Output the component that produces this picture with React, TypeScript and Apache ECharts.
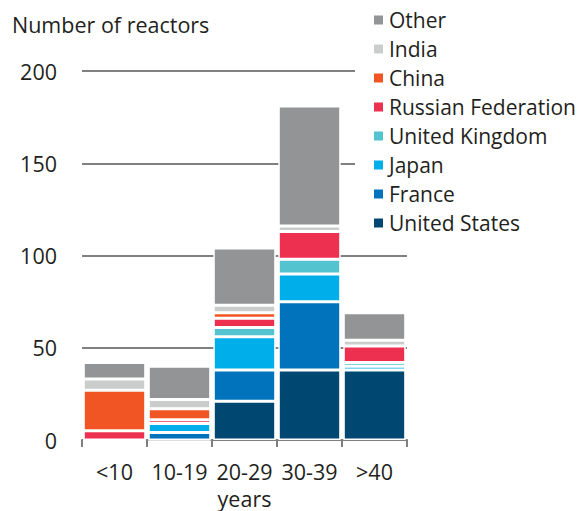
import React, { useEffect, useRef } from "react";
import * as echarts from "echarts";

const categories = ["<10", "10-19", "20-29", "30-39", ">40"];
const unitedStates = [0, 0, 21, 38, 38];
const france = [0, 4, 17, 37, 0];
const japan = [0, 5, 18, 15, 2];
const unitedKingdom = [0, 0, 5, 8, 2];
const russia = [5, 2, 5, 15, 9];
const china = [22, 6, 3, 0, 0];
const india = [6, 5, 4, 3, 3];
const other = [9, 18, 31, 65, 15];
const yTicks = [0, 50, 100, 150, 200];

const seriesDefs = [
  { name: "United States", data: unitedStates, color: "#004872" },
  { name: "France", data: france, color: "#0073bc" },
  { name: "Japan", data: japan, color: "#00aeea" },
  { name: "United Kingdom", data: unitedKingdom, color: "#52c3cf" },
  { name: "Russian Federation", data: russia, color: "#ee3050" },
  { name: "China", data: china, color: "#f15523" },
  { name: "India", data: india, color: "#cbcccc" },
  { name: "Other", data: other, color: "#939496" },
];

const FONT = "'Open Sans', sans-serif";
const FS = 21.5;
const TEXT = "#231f20";

export default function App() {
  const ref = useRef<HTMLDivElement>(null);
  useEffect(() => {
    const chart = echarts.init(ref.current!, null, { renderer: "svg" });
    chart.setOption({
      animation: false,
      textStyle: { fontFamily: FONT },
      title: {
        text: "Number of reactors",
        left: 7,
        top: 8,
        textStyle: { fontFamily: FONT, fontSize: FS, fontWeight: "normal", color: TEXT, lineHeight: 22 },
      },
      legend: {
        orient: "vertical",
        left: 355,
        top: 8,
        padding: [1, 0, 8, 17],
        backgroundColor: "#ffffff",
        itemWidth: 11,
        itemHeight: 11,
        itemGap: 7,
        icon: "rect",
        data: ["Other", "India", "China", "Russian Federation", "United Kingdom", "Japan", "France", "United States"],
        textStyle: { fontFamily: FONT, fontSize: 21, color: TEXT, lineHeight: 22 },
        z: 10,
      },
      grid: { left: 82, right: 178, top: 71, bottom: 71, containLabel: false, outerBoundsMode: "none" },
      xAxis: {
        type: "category",
        data: categories,
        name: "years",
        nameLocation: "middle",
        nameGap: 47,
        nameTextStyle: { fontFamily: FONT, fontSize: FS, color: TEXT },
        axisLine: { lineStyle: { color: "#7f7f7f", width: 2 } },
        axisTick: { show: true, length: 7, lineStyle: { color: "#7f7f7f", width: 2 } },
        axisLabel: { fontFamily: FONT, fontSize: FS, color: TEXT, margin: 20, interval: 0 },
      },
      yAxis: {
        type: "value",
        min: 0,
        max: 200,
        interval: 50,
        axisLine: { show: false },
        axisTick: { show: false },
        axisLabel: {
          fontFamily: FONT,
          fontSize: FS,
          color: TEXT,
          margin: 25,
          formatter: (v: number) => (yTicks.includes(v) ? String(v) : ""),
        },
        splitLine: { lineStyle: { color: "#808080", width: 2 } },
      },
      series: seriesDefs.map((s) => ({
        name: s.name,
        type: "bar",
        stack: "total",
        data: s.data,
        barWidth: "96%",
        itemStyle: { color: s.color, borderColor: "#ffffff", borderWidth: 1.5 },
        emphasis: { disabled: true },
      })),
    });
    return () => chart.dispose();
  }, []);
  return (
    <div
      ref={ref}
      style={{ position: "absolute", left: 0, top: 0, width: 585, height: 511 }}
    />
  );
}
